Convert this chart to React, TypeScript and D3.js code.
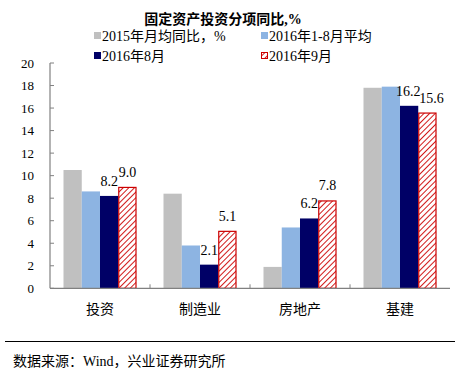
import React from "react";
import * as d3 from "d3";

const categories = ["投资", "制造业", "房地产", "基建"];
const seriesNames = ["2015年月均同比，%", "2016年1-8月平均", "2016年8月", "2016年9月"];
const s2015 = [10.5, 8.4, 1.9, 17.8];
const s2016avg = [8.6, 3.8, 5.4, 17.9];
const s2016aug = [8.2, 2.1, 6.2, 16.2];
const s2016sep = [9.0, 5.1, 7.8, 15.6];
const yTicks = [0, 2, 4, 6, 8, 10, 12, 14, 16, 18, 20];
const labeledSeries = [2, 3];

const W = 455, H = 368;
const serif = "'Liberation Serif', 'Times New Roman', 'Noto Sans CJK SC', serif";
const colors = ["#c0c0c0", "#8db4e2", "#000066", "#cc0000"];

export default function App() {
  const series = [s2015, s2016avg, s2016aug, s2016sep];
  const x0 = d3.scaleBand<string>().domain(categories).range([50, 450]).paddingInner(0).paddingOuter(0);
  const x1 = d3.scaleBand<number>().domain([0, 1, 2, 3]).range([13.5, 86.5]).padding(0);
  const y = d3.scaleLinear().domain([0, 20]).range([288.3, 63]);

  const fillFor = (i: number) => (i === 3 ? "url(#hatch)" : colors[i]);
  // nudge labels apart where two neighbouring labels would collide
  const labelDx = (ci: number, si: number) => {
    if (ci === categories.length - 1) return si === 3 ? 4 : -1;
    return 0;
  };

  return (
    <svg width={W} height={H} style={{ position: "absolute", left: 0, top: 0, background: "#fff" }} fontFamily={serif}>
      <defs>
        <pattern id="hatch" patternUnits="userSpaceOnUse" width="4" height="4" patternTransform="rotate(45)">
          <rect width="4" height="4" fill="#fff" />
          <line x1="0" y1="0" x2="0" y2="4" stroke="#cc0000" strokeWidth="1.8" />
        </pattern>
      </defs>
      <rect width={W} height={H} fill="#fff" />
      <text x={223} y={24} textAnchor="middle" fontSize={14} fontWeight="bold" fill="#000">固定资产投资分项同比,%</text>
      {/* legend */}
      {seriesNames.map((name, i) => {
        const lx = i % 2 === 0 ? 94 : 261;
        const ly = i < 2 ? 41 : 61;
        return (
          <g key={name}>
            {i === 3 ? (
              <rect x={lx + 0.5} y={ly - 8.5} width={6} height={6} fill="url(#hatch)" stroke="#cc0000" strokeWidth={1} />
            ) : (
              <rect x={lx} y={ly - 9} width={7} height={7} fill={colors[i]} />
            )}
            <text x={lx + 8} y={ly} fontSize={14} fill="#000">{name}</text>
          </g>
        );
      })}
      {/* y axis */}
      <line x1={50} x2={50} y1={y(20)} y2={y(0)} stroke="#808080" strokeWidth={1.2} />
      {yTicks.map((t) => (
        <g key={t}>
          <line x1={50} x2={54} y1={y(t)} y2={y(t)} stroke="#808080" strokeWidth={1} />
          <text x={34} y={y(t) + 4.5} textAnchor="end" fontSize={13} fill="#000">{t}</text>
        </g>
      ))}
      {/* bars */}
      {categories.map((c, ci) => (
        <g key={c} transform={`translate(${x0(c)},0)`}>
          {series.map((s, si) => (
            <rect
              key={si}
              x={x1(si)! + (si === 3 ? 0.5 : 0)}
              y={y(s[ci]) + (si === 3 ? 0.5 : 0)}
              width={x1.bandwidth() - (si === 3 ? 1 : 0)}
              height={y(0) - y(s[ci]) - (si === 3 ? 0.5 : 0)}
              fill={fillFor(si)}
              stroke={si === 3 ? "#cc0000" : "none"}
              strokeWidth={si === 3 ? 1.2 : 0}
            />
          ))}
          {labeledSeries.map((si) => (
            <text
              key={"l" + si}
              x={x1(si)! + x1.bandwidth() / 2 + labelDx(ci, si)}
              y={y(series[si][ci]) - 10}
              textAnchor="middle"
              fontSize={14}
              fill="#000"
            >
              {series[si][ci].toFixed(1)}
            </text>
          ))}
        </g>
      ))}
      {/* x axis */}
      <line x1={50} x2={450} y1={y(0)} y2={y(0)} stroke="#808080" strokeWidth={1.2} />
      {[150, 250, 350].map((bx) => (
        <line key={bx} x1={bx} x2={bx} y1={y(0)} y2={y(0) - 4} stroke="#808080" strokeWidth={1} />
      ))}
      {categories.map((c) => (
        <text key={c} x={x0(c)! + x0.bandwidth() / 2} y={314} textAnchor="middle" fontSize={14} fill="#000">{c}</text>
      ))}
      {/* footer */}
      <line x1={5} x2={455} y1={341.5} y2={341.5} stroke="#000" strokeWidth={1} />
      <text x={13} y={366} fontSize={14} fill="#000">数据来源：Wind，兴业证券研究所</text>
    </svg>
  );
}
